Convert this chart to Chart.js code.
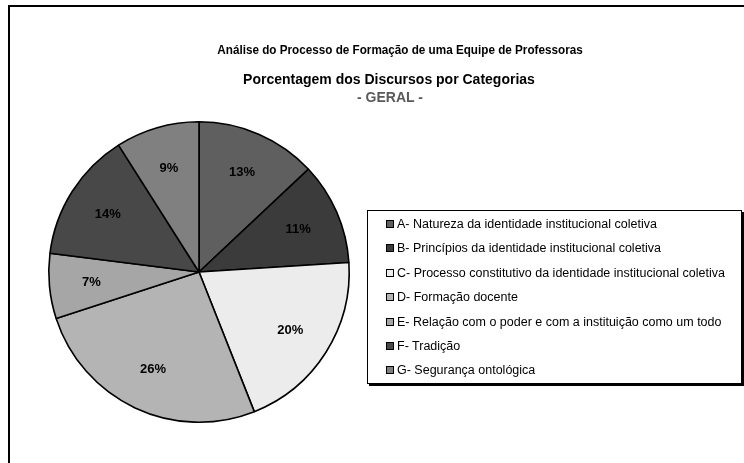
<!DOCTYPE html>
<html>
<head>
<meta charset="utf-8">
<script src="https://cdn.jsdelivr.net/npm/chart.js@4.4.0/dist/chart.umd.min.js"></script>
<style>
  body { margin: 0; width: 744px; height: 463px; overflow: hidden; background: #fff; font-family: Arial, "Liberation Sans", sans-serif; }
  #frame { position: absolute; left: 8px; top: 5px; width: 800px; height: 500px; border-left: 2px solid #000; border-top: 2px solid #000; }
  canvas { position: absolute; left: 0; top: 0; }
  .title { position: absolute; white-space: nowrap; transform: translate(-50%, -50%); font-weight: bold; }
  #legend { position: absolute; left: 367px; top: 210px; width: 373px; height: 172px; border: 1px solid #000; box-shadow: 2px 2px 0 #000; background: #fff; }
  .item { position: absolute; left: 18px; font-size: 12.5px; line-height: 15px; white-space: nowrap; }
  .item span.box { display: inline-block; width: 6px; height: 6px; border: 1px solid #000; margin-right: 3px; vertical-align: 0px; }
</style>
</head>
<body>
<div id="frame"></div>
<canvas id="pieChart" width="744" height="463"></canvas>
<div class="title" style="left:400px; top:49px; font-size:13px; transform: translate(-50%, -50%) scaleX(0.9);">Análise do Processo de Formação de uma Equipe de Professoras</div>
<div class="title" style="left:389px; top:79px; font-size:14px;">Porcentagem dos Discursos por Categorias</div>
<div class="title" style="left:390px; top:97px; font-size:14px; color:#595959;">- GERAL -</div>
<div id="legend"></div>
<script>
// categorias do discurso
const categorias = [
    'A- Natureza da identidade institucional coletiva',
    'B- Princípios da identidade institucional coletiva',
    'C- Processo constitutivo da identidade institucional coletiva',
    'D- Formação docente',
    'E- Relação com o poder e com a instituição como um todo',
    'F- Tradição',
    'G- Segurança ontológica'
];
// porcentagens
const porcentagens = [13, 11, 20, 26, 7, 14, 9];

const cores = ['#5f5f5f', '#3b3b3b', '#ececec', '#b4b4b4', '#a6a6a6', '#484848', '#808080'];

// escreve os rótulos de porcentagem dentro das fatias
const percentLabels = {
    id: 'percentLabels',
    afterDatasetsDraw(chart) {
        const ctx = chart.ctx;
        const meta = chart.getDatasetMeta(0);
        const total = porcentagens.reduce((a, b) => a + b, 0);
        ctx.save();
        ctx.font = 'bold 13px Arial, "Liberation Sans", sans-serif';
        ctx.fillStyle = '#000';
        ctx.textAlign = 'center';
        ctx.textBaseline = 'middle';
        meta.data.forEach(function(arc, i) {
            const p = arc.getProps(['x', 'y', 'startAngle', 'endAngle', 'outerRadius'], true);
            const mid = (p.startAngle + p.endAngle) / 2;
            const r = p.outerRadius * 0.72;
            const pct = Math.round(porcentagens[i] / total * 100) + '%';
            ctx.fillText(pct, p.x + Math.cos(mid) * r, p.y + Math.sin(mid) * r);
        });
        ctx.restore();
    }
};

const chart = new Chart(document.getElementById('pieChart'), {
    type: 'pie',
    data: {
        labels: categorias,
        datasets: [{
            data: porcentagens,
            backgroundColor: cores,
            borderColor: '#000',
            borderWidth: 1.6
        }]
    },
    options: {
        responsive: false,
        animation: false,
        layout: { padding: { left: 48, right: 394, top: 121, bottom: 40 } },
        plugins: {
            legend: { display: false },
            title: { display: false },
            tooltip: { enabled: false }
        }
    },
    plugins: [percentLabels]
});

// legenda em HTML, montada a partir dos dados do gráfico
const legendEl = document.getElementById('legend');
chart.data.labels.forEach(function(label, i) {
    const item = document.createElement('div');
    item.className = 'item';
    item.style.top = (6 + i * 24.4) + 'px';
    const box = document.createElement('span');
    box.className = 'box';
    box.style.background = chart.data.datasets[0].backgroundColor[i];
    item.appendChild(box);
    item.appendChild(document.createTextNode(label));
    legendEl.appendChild(item);
});
</script>
</body>
</html>
